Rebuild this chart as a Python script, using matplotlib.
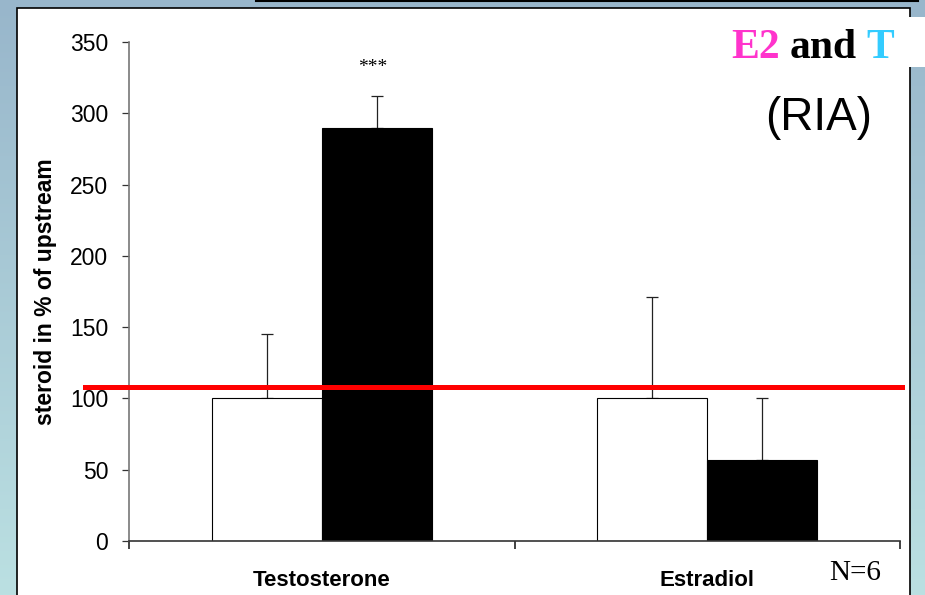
import numpy as np
import matplotlib
matplotlib.use("Agg")
import matplotlib.pyplot as plt
from matplotlib.patches import Rectangle

# --- data ---
categories = ["Testosterone", "Estradiol"]
upstream = [100, 100]          # white bars
upstream_err = [45, 71]
downstream = [290, 57]         # black bars
downstream_err = [22, 43]
reference_level = 108          # red line
y_ticks = [0, 50, 100, 150, 200, 250, 300, 350]

plt.rcParams["font.family"] = ["Liberation Sans", "DejaVu Sans"]
SERIF = ["Liberation Serif", "DejaVu Serif"]

W, H = 925, 595
fig = plt.figure(figsize=(W / 100, H / 100), dpi=100)

# slide background: blue gradient with a white panel
bg = fig.add_axes([0, 0, 1, 1])
bg.set_xlim(0, W)
bg.set_ylim(H, 0)
bg.axis("off")
top = np.array([152, 182, 203]) / 255
bottom = np.array([187, 224, 226]) / 255
t = np.linspace(0, 1, 256)[:, None]
grad = (top * (1 - t) + bottom * t)[:, None, :]
bg.imshow(grad, extent=(0, W, H, 0), aspect="auto", zorder=0)
bg.add_patch(Rectangle((17, 8), 893, 600, facecolor="white",
                       edgecolor="black", lw=1.2, zorder=1))
bg.add_patch(Rectangle((860, 17), 65, 50, facecolor="white",
                       edgecolor="none", zorder=2))
bg.plot([256, 918], [0.5, 0.5], color="black", lw=1.5, zorder=2)

# main chart
ax = fig.add_axes([129 / W, 1 - 541 / H, 771 / W, 499 / H])
ax.set_facecolor("none")
x = np.arange(len(categories))
w = 0.285

ax.bar(x - w / 2, upstream, w, color="white", edgecolor="black", lw=0.8, zorder=2)
ax.bar(x + w / 2, downstream, w, color="black", edgecolor="black", lw=0.8, zorder=2)
ax.errorbar(x - w / 2, upstream, yerr=[np.zeros(2), upstream_err], fmt="none",
            ecolor="#222222", elinewidth=0.9, capsize=4, capthick=0.9, zorder=1)
ax.errorbar(x + w / 2, downstream, yerr=[np.zeros(2), downstream_err], fmt="none",
            ecolor="#222222", elinewidth=0.9, capsize=4, capthick=0.9, zorder=1)

ax.axhline(reference_level, xmin=-0.057, xmax=1.0026, color="#ff0000",
           lw=3.6, clip_on=False, zorder=3)

ax.set_xlim(-0.5, 1.5)
ax.set_ylim(0, 350)
ax.set_yticks(y_ticks)
ax.tick_params(axis="y", length=5, width=0.9, pad=10, labelsize=16.5, color="#333333")
ax.set_xticks(x)
ax.set_xticklabels(categories, fontweight="bold", fontsize=16)
ax.tick_params(axis="x", which="major", length=0, pad=21)
ax.set_xticks([-0.5, 0.5, 1.5], minor=True)
ax.tick_params(axis="x", which="minor", length=6, width=1.2, color="#222222")

for side in ("top", "right"):
    ax.spines[side].set_visible(False)
ax.spines["left"].set_color("#777777")
ax.spines["left"].set_linewidth(1.2)
ax.spines["bottom"].set_color("#333333")
ax.spines["bottom"].set_linewidth(1.2)

ax.set_ylabel("steroid in % of upstream", fontweight="bold", fontsize=16.5)
ax.yaxis.set_label_coords(-0.094, 0.5)

ax.text(x[0] + w / 2 - 0.01, 332, "***", ha="center", va="center",
        fontsize=14, family=SERIF)

# slide annotations
t1 = fig.text(731 / W, 1 - 58 / H, "E2", color="#ff33cc", fontsize=30,
              fontweight="bold", family=SERIF, ha="left", va="baseline")
t2 = ax.annotate("and", xy=(1, 0), xycoords=t1, xytext=(7, 0),
                 textcoords="offset points", color="black", fontsize=30,
                 fontweight="bold", family=SERIF, ha="left", va="bottom")
ax.annotate("T", xy=(1, 0), xycoords=t2, xytext=(7, 0),
            textcoords="offset points", color="#33ccff", fontsize=30,
            fontweight="bold", family=SERIF, ha="left", va="bottom")
fig.text(819 / W, 1 - 118 / H, "(RIA)", fontsize=33, ha="center", va="center")
fig.text(855 / W, 1 - 573 / H, "N=6", fontsize=21, family=SERIF,
         ha="center", va="center")

fig.savefig("out.png", dpi=100)
